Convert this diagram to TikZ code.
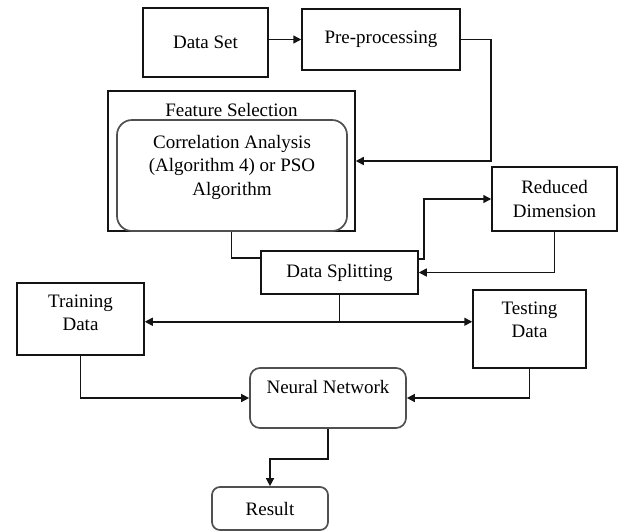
\documentclass[tikz,border=0pt]{standalone}
\usepackage{fontspec}
\setmainfont{Liberation Serif}
\usetikzlibrary{arrows.meta}
\definecolor{diagramline}{HTML}{141414}
\definecolor{roundline}{HTML}{505050}
\newcommand{\flowtext}{\fontsize{19}{23.5}\selectfont}

\begin{document}
\begin{tikzpicture}[x=1pt,y=-1pt,font=\flowtext,
  flowbox/.style={draw=diagramline,line width=1.5pt,inner sep=0pt,align=center},
  softbox/.style={draw=roundline,line width=1.7pt,inner sep=0pt,align=center},
  flowline/.style={draw=diagramline,line width=1.5pt},
  flowarrow/.style={flowline,-{Triangle[length=8pt,width=8pt]}}]
\useasboundingbox (0,0) rectangle (621,531);

\node[flowbox,minimum width=125pt,minimum height=69pt] (dataset) at (205.5,42.5) {Data Set};
\node[flowbox,minimum width=158pt,minimum height=61pt] (prep) at (381,39.5) {Pre-processing};

\node[flowbox,minimum width=247pt,minimum height=140pt] (featsel) at (231.5,161) {};
\node (feattitle) at (231.5,110) {Feature Selection};
\node[softbox,rounded corners=15pt,minimum width=230pt,minimum height=111pt] (featalg) at (232,175.5) {};
\node[align=center] (algtext) at (232,167) {Correlation Analysis\\(Algorithm 4) or PSO\\Algorithm};

\node[flowbox,minimum width=157pt,minimum height=43pt] (split) at (339.5,272.5) {Data Splitting};
\node[flowbox,minimum width=125pt,minimum height=64pt] (reduced) at (554.5,199) {Reduced\\Dimension};

\node[flowbox,minimum width=127pt,minimum height=72pt] (train) at (80.5,319) {};
\node[align=center] (traintext) at (80.5,313) {Training\\Data};
\node[flowbox,minimum width=113pt,minimum height=78pt] (test) at (529.5,329) {};
\node[align=center] (testtext) at (529.5,320) {Testing\\Data};

\node[softbox,rounded corners=10pt,minimum width=156pt,minimum height=60pt] (neural) at (328,398) {};
\node (neuraltext) at (328,387) {Neural Network};
\node[softbox,rounded corners=8pt,minimum width=116pt,minimum height=43pt] (result) at (270,508.5) {Result};

\draw[flowarrow] (dataset.east |- prep.west) -- (prep.west);
\draw[flowarrow] (prep.east) -- ++(30,0) |- (featsel.east);
\draw[flowline] (featsel.south) |- ([yshift=14.5pt]split.west);
\draw[flowarrow] ([yshift=13.5pt]split.east) -- ++(5,0) |- (reduced.west);
\draw[flowarrow] (reduced.south) |- (split.east);
\draw[flowline] (split.south) -- ++(0,27) coordinate (fork);
\draw[flowarrow] (fork) -- (fork -| train.east);
\draw[flowarrow] (fork) -- (fork -| test.west);
\draw[flowarrow] (train.south) |- (neural.west);
\draw[flowarrow] (test.south) |- (neural.east);
\draw[flowarrow] (neural.south) -- ++(0,30) -| (result.north);
\end{tikzpicture}
\end{document}
